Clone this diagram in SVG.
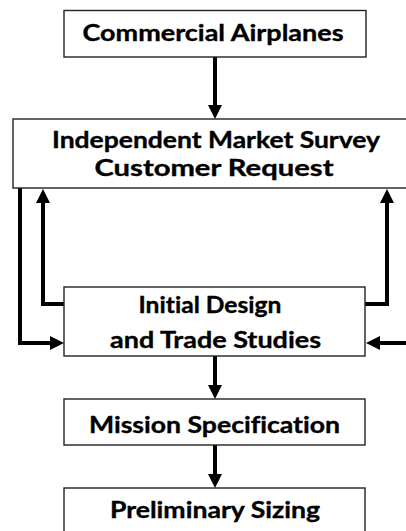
<svg xmlns="http://www.w3.org/2000/svg" width="406" height="531" viewBox="0 0 406 531">
  <style>
    .box { fill: #ffffff; stroke: #222222; stroke-width: 1.4; }
    .lbl { font-family: Lato, "Open Sans", "Liberation Sans", sans-serif; font-weight: bold; font-size: 22px; fill: #000000; text-anchor: middle; font-variant-ligatures: none; stroke: #000000; stroke-width: 0.35; }
    .wire { fill: none; stroke: #000000; stroke-width: 4; stroke-linejoin: miter; }
  </style>
  <defs>
    <marker id="head" markerUnits="userSpaceOnUse" markerWidth="15" markerHeight="15" refX="4" refY="7" orient="auto">
      <polygon points="0,0 14,7 0,14" fill="#000000"/>
    </marker>
  </defs>
  <rect width="406" height="531" fill="#ffffff"/>

  <g id="connectors">
    <path class="wire" d="M215,57 V109" marker-end="url(#head)"/>
    <path class="wire" d="M20,188 V343 H54" marker-end="url(#head)"/>
    <path class="wire" d="M64,304 H43 V199" marker-end="url(#head)"/>
    <path class="wire" d="M365,304 H387 V199" marker-end="url(#head)"/>
    <path class="wire" d="M408,343 H376" marker-end="url(#head)"/>
    <path class="wire" d="M215,356 V389" marker-end="url(#head)"/>
    <path class="wire" d="M215,445 V478" marker-end="url(#head)"/>
  </g>

  <g id="commercial-airplanes">
    <rect class="box" x="64" y="10.5" width="302" height="46.5"/>
    <text class="lbl" x="213" y="40.5" textLength="261" lengthAdjust="spacingAndGlyphs">Commercial Airplanes</text>
  </g>

  <g id="market-survey">
    <rect class="box" x="13" y="119" width="400" height="69"/>
    <text class="lbl" x="216" y="147.5" textLength="328" lengthAdjust="spacingAndGlyphs">Independent Market Survey</text>
    <text class="lbl" x="214" y="175.5" textLength="239" lengthAdjust="spacingAndGlyphs">Customer Request</text>
  </g>

  <g id="initial-design">
    <rect class="box" x="64" y="287" width="301" height="69"/>
    <text class="lbl" x="210" y="312.5" textLength="143" lengthAdjust="spacingAndGlyphs">Initial Design</text>
    <text class="lbl" x="215.5" y="347.5" textLength="211" lengthAdjust="spacingAndGlyphs">and Trade Studies</text>
  </g>

  <g id="mission-specification">
    <rect class="box" x="64" y="399" width="301" height="46"/>
    <text class="lbl" x="214.5" y="432.5" textLength="251" lengthAdjust="spacingAndGlyphs">Mission Specification</text>
  </g>

  <g id="preliminary-sizing">
    <rect class="box" x="64" y="488" width="301" height="50"/>
    <text class="lbl" x="215" y="517.5" textLength="210" lengthAdjust="spacingAndGlyphs">Preliminary Sizing</text>
  </g>
</svg>
